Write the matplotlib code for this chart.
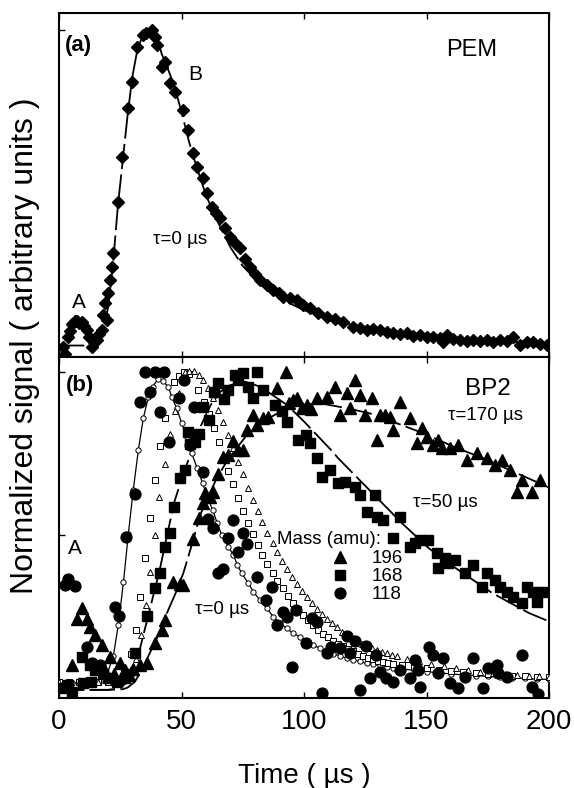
import matplotlib
matplotlib.use("Agg")
import matplotlib.pyplot as plt

plt.rcParams['font.family'] = ['Liberation Sans', 'DejaVu Sans']

# ---- panel (a): PEM ----
pem_t = [1.8, 2.4, 3.5, 4.5, 5.5, 6.5, 7.2, 8.3, 9.3, 10.3, 11.3, 12.3, 13.3, 14.4, 15.4,
         16.4, 17.4, 18.0, 18.8, 19.5, 20.0, 20.8, 21.5, 22.1, 24.2, 25.6, 28.3, 29.7, 32.0,
         34.1, 35.5, 37.8, 39.2, 39.9, 41.9, 43.3, 45.3, 47.3, 50.5, 52.8, 54.6, 56.2, 58.9,
         60.5, 62.3, 64.0, 65.7, 67.8, 69.8, 71.8, 73.9, 76.0, 78.0, 80.0, 82.0, 84.8, 87.5,
         89.6, 91.6, 94.3, 97.0, 99.7, 102.4, 105.9, 109.3, 112.7, 116.0, 120.0, 122.8, 125.6,
         128.3, 131.0, 133.8, 136.5, 139.2, 141.9, 144.6, 147.3, 150.0, 152.8, 155.5, 156.9,
         158.2, 161.0, 163.7, 166.4, 169.1, 171.8, 174.6, 177.3, 180.0, 182.7, 185.4, 188.2,
         191.0, 193.6, 196.3, 199.0]
pem_y = [0.03, 0.01, 0.06, 0.08, 0.10, 0.11, 0.11, 0.105, 0.108, 0.095, 0.083, 0.06, 0.03, 0.045,
         0.052, 0.07, 0.083, 0.128, 0.165, 0.113, 0.195, 0.235, 0.276, 0.318, 0.475, 0.613, 0.76,
         0.842, 0.949, 0.985, 0.99, 1.0, 0.98, 0.954, 0.888, 0.903, 0.837, 0.811, 0.755, 0.694,
         0.623, 0.582, 0.546, 0.50, 0.46, 0.44, 0.424, 0.395, 0.368, 0.35, 0.332, 0.30, 0.276,
         0.255, 0.235, 0.22, 0.205, 0.195, 0.184, 0.18, 0.174, 0.16, 0.149, 0.135, 0.123, 0.115,
         0.108, 0.093, 0.09, 0.083, 0.085, 0.083, 0.075, 0.072, 0.07, 0.072, 0.065, 0.067, 0.06,
         0.062, 0.058, 0.045, 0.067, 0.055, 0.052, 0.048, 0.052, 0.05, 0.052, 0.047, 0.052, 0.048,
         0.062, 0.037, 0.045, 0.047, 0.04, 0.037]

pem_fit_t = [0, 10, 15, 18, 20, 22, 24, 26, 28, 30, 32, 34, 36, 38, 40, 42, 44, 47, 50, 53, 56,
             60, 64, 70, 75, 83, 92, 100, 110, 120, 130, 140, 150, 160, 170, 180, 190, 200]
pem_fit_y = [0.035, 0.035, 0.04, 0.08, 0.15, 0.28, 0.46, 0.60, 0.74, 0.86, 0.94, 0.98, 1.0, 1.0,
             0.975, 0.925, 0.89, 0.83, 0.75, 0.66, 0.585, 0.495, 0.425, 0.335, 0.278, 0.217,
             0.172, 0.143, 0.117, 0.097, 0.082, 0.072, 0.064, 0.057, 0.052, 0.048, 0.045, 0.043]

# ---- panel (b): BP2, measured ----
m118_t = [2.4, 3.8, 6.5, 11.3, 13.3, 15.4, 16.7, 22.9, 24.6, 27.3, 31.0, 33.1, 35.1, 37.1, 39.2,
          41.2, 43.0, 45.0, 49.1, 51.1, 53.5, 55.1, 58.9, 60.9, 63.0, 65.0, 67.1, 69.1, 71.1,
          73.2, 75.0, 76.9, 80.7, 84.5, 86.8, 88.8, 91.3, 93.2, 95.0, 96.7, 100.8, 103.1, 105.2,
          107.2, 109.3, 110.9, 114.7, 117.5, 118.8, 121.0, 122.9, 125.1, 126.9, 129.3, 131.0,
          133.5, 136.5, 139.2, 143.3, 145.3, 146.7, 147.3, 151.1, 152.8, 154.8, 156.9, 159.6,
          163.0, 165.7, 169.1, 173.2, 175.2, 178.6, 179.3, 182.7, 188.8, 192.9, 195.6]
m118_y = [0.347, 0.364, 0.345, 0.157, 0.108, 0.096, 0.101, 0.28, 0.25, 0.495, 0.625, 0.907, 0.999,
          0.938, 0.999, 0.878, 0.999, 0.784, 0.919, 0.975, 0.776, 0.894, 0.692, 0.548, 0.52,
          0.382, 0.395, 0.49, 0.546, 0.449, 0.505, 0.472, 0.372, 0.30, 0.341, 0.224, 0.265, 0.248,
          0.096, 0.27, 0.168, 0.244, 0.234, 0.014, 0.137, 0.157, 0.152, 0.19, 0.137, 0.175, 0.025,
          0.16, 0.06, 0.132, 0.081, 0.06, 0.05, 0.086, 0.06, 0.117, 0.086, 0.035, 0.157, 0.132,
          0.076, 0.122, 0.045, 0.03, 0.065, 0.122, 0.03, 0.091, 0.101, 0.076, 0.065, 0.132, 0.035,
          0.012]

m168_t = [1.8, 3.5, 5.5, 9.3, 9.9, 12.7, 13.0, 14.7, 18.1, 20.1, 23.5, 26.9, 28.3, 31.0, 35.8,
          39.2, 41.2, 43.3, 45.3, 46.9, 49.4, 51.4, 52.8, 53.5, 55.5, 57.3, 58.6, 61.3, 63.3,
          65.0, 67.3, 69.1, 71.8, 73.2, 75.2, 77.3, 79.3, 80.7, 83.4, 88.0, 91.2, 92.9, 97.7,
          100.8, 102.4, 105.2, 107.2, 110.6, 114.0, 116.7, 120.8, 122.9, 125.6, 129.0, 129.7,
          132.4, 136.5, 139.2, 143.3, 145.3, 147.3, 150.7, 154.2, 154.8, 157.6, 158.9, 161.6,
          165.7, 169.1, 172.5, 174.6, 178.0, 180.0, 182.7, 185.4, 188.8, 190.9, 193.6, 195.0,
          197.0]
m168_y = [0.03, 0.04, 0.017, 0.127, 0.045, 0.101, 0.05, 0.086, 0.075, 0.06, 0.05, 0.06, 0.075,
          0.137, 0.252, 0.336, 0.382, 0.464, 0.507, 0.587, 0.674, 0.699, 0.815, 0.778, 0.784,
          0.809, 0.894, 0.853, 0.94, 0.965, 0.917, 0.945, 0.991, 0.975, 0.996, 0.955, 0.921,
          0.999, 0.945, 0.899, 0.88, 0.848, 0.791, 0.807, 0.781, 0.735, 0.679, 0.699, 0.658,
          0.663, 0.648, 0.623, 0.572, 0.623, 0.556, 0.546, 0.49, 0.556, 0.464, 0.475, 0.485,
          0.485, 0.444, 0.398, 0.429, 0.413, 0.423, 0.382, 0.408, 0.341, 0.382, 0.362, 0.341,
          0.326, 0.311, 0.29, 0.341, 0.326, 0.295, 0.326]

m196_t = [5.2, 7.2, 9.3, 11.3, 12.7, 14.7, 17.4, 18.5, 20.8, 22.5, 24.9, 26.9, 28.5, 30.3, 33.0,
          35.8, 39.2, 41.9, 43.3, 46.6, 49.4, 50.7, 54.8, 57.1, 58.9, 59.6, 61.6, 63.0, 65.0,
          67.1, 69.1, 71.1, 73.2, 75.2, 76.6, 79.0, 80.7, 83.4, 85.4, 88.8, 92.5, 94.0, 95.6,
          97.0, 99.0, 101.1, 102.8, 105.2, 109.3, 112.7, 114.7, 117.4, 118.8, 120.8, 122.9,
          124.9, 127.6, 129.7, 131.0, 133.0, 135.1, 136.5, 139.2, 143.3, 146.0, 148.0, 150.1,
          152.8, 154.8, 156.2, 159.6, 163.0, 166.4, 170.5, 174.6, 178.0, 180.7, 184.1, 186.8,
          188.8, 192.9, 196.3]
m196_y = [0.101, 0.241, 0.275, 0.241, 0.219, 0.193, 0.163, 0.09, 0.127, 0.075, 0.106, 0.086,
          0.07, 0.088, 0.101, 0.108, 0.168, 0.21, 0.239, 0.357, 0.35, 0.347, 0.487, 0.551,
          0.597, 0.628, 0.617, 0.633, 0.686, 0.74, 0.745, 0.788, 0.761, 0.761, 0.822, 0.868,
          0.837, 0.858, 0.863, 0.95, 1.0, 0.906, 0.914, 0.919, 0.889, 0.899, 0.886, 0.919, 0.924,
          0.955, 0.868, 0.934, 0.889, 0.975, 0.929, 0.868, 0.919, 0.791, 0.868, 0.868, 0.863,
          0.822, 0.909, 0.858, 0.781, 0.827, 0.801, 0.776, 0.791, 0.766, 0.766, 0.776, 0.73,
          0.75, 0.735, 0.715, 0.73, 0.699, 0.633, 0.669, 0.633, 0.669]

# ---- panel (b): calculated, tau = 0 (open symbols) ----
c118_t = [0, 2.7, 5.4, 8.1, 10.8, 13.5, 16.2, 19.5, 22.2, 24.2, 26.3, 28.3, 30.3, 32.4, 34.4,
          36.5, 38.2, 40.5, 42.3, 44.6, 46.0, 48.0, 50.1, 52.1, 54.2, 56.4, 58.6, 60.5, 62.7,
          64.6, 66.4, 69.1, 71.2, 72.8, 74.6, 77.3, 79.3, 82.0, 84.8, 87.5, 90.2, 92.9, 95.6,
          98.4, 101.1, 103.8, 106.5, 109.3, 112.0, 114.7, 117.4, 120.1, 122.8, 125.6, 128.3,
          131.0, 133.7, 136.5, 140, 145, 150, 155, 160, 165, 170, 175, 180, 185, 190, 195, 200]
c118_y = [0.047, 0.047, 0.047, 0.047, 0.047, 0.047, 0.048, 0.07, 0.13, 0.224, 0.355, 0.503, 0.638,
          0.761, 0.858, 0.924, 0.955, 0.979, 0.972, 0.955, 0.924, 0.889, 0.843, 0.80, 0.75,
          0.705, 0.659, 0.617, 0.577, 0.536, 0.50, 0.464, 0.439, 0.408, 0.382, 0.352, 0.326,
          0.30, 0.275, 0.249, 0.229, 0.214, 0.198, 0.188, 0.176, 0.163, 0.152, 0.142, 0.135,
          0.129, 0.122, 0.117, 0.112, 0.106, 0.103, 0.10, 0.096, 0.093, 0.089, 0.085, 0.081,
          0.077, 0.074, 0.071, 0.069, 0.066, 0.064, 0.062, 0.060, 0.058, 0.057]

c168_t = [0, 4, 8, 12, 16, 20, 24, 26.5, 29.2, 31.3, 33.0, 35.1, 37.1, 39.2, 41.2, 43.3, 46.9,
          49.1, 51.1, 53.2, 56.9, 59.2, 61.3, 63.3, 65.3, 69.1, 71.1, 73.2, 75.2, 77.3, 79.3,
          81.1, 82.7, 85.0, 87.2, 89.1, 91.3, 93.3, 95.4, 97.4, 99.4, 101.5, 103.5, 105.6, 107.6,
          109.7, 111.7, 113.7, 115.8, 117.8, 119.9, 121.9, 124.0, 126.0, 128.0, 130.1, 132.2,
          134.2, 136.2, 140, 145, 150, 155, 160, 165, 170, 175, 180, 185, 190, 195, 200]
c168_y = [0.05, 0.05, 0.05, 0.05, 0.05, 0.05, 0.052, 0.08, 0.135, 0.21, 0.31, 0.428, 0.551, 0.669,
          0.773, 0.858, 0.97, 0.989, 0.999, 0.993, 0.945, 0.909, 0.87, 0.829, 0.784, 0.696,
          0.655, 0.614, 0.575, 0.536, 0.503, 0.469, 0.439, 0.411, 0.384, 0.36, 0.336, 0.313,
          0.292, 0.272, 0.255, 0.239, 0.224, 0.209, 0.196, 0.186, 0.176, 0.166, 0.158, 0.149,
          0.143, 0.136, 0.13, 0.124, 0.119, 0.114, 0.11, 0.106, 0.103, 0.10, 0.095, 0.091,
          0.087, 0.083, 0.08, 0.077, 0.074, 0.072, 0.069, 0.067, 0.065, 0.063]

c196_t = [0, 4, 8, 12, 16, 20, 24, 27, 29.5, 31.5, 33.5, 35.5, 37.1, 39.2, 40.9, 43.3, 45.3,
          47.3, 49.1, 51.4, 53.2, 55.1, 57.1, 58.9, 60.9, 63.0, 65.0, 67.1, 69.1, 71.1, 73.2,
          75.2, 77.3, 79.3, 81.1, 83.0, 84.8, 87.2, 88.8, 90.9, 92.9, 95.0, 97.0, 99.0, 101.1,
          103.1, 105.2, 107.2, 109.3, 111.3, 113.3, 115.4, 117.4, 119.5, 121.5, 123.5, 125.6,
          127.6, 129.7, 131.7, 133.8, 135.8, 137.9, 142, 147, 152, 157, 162, 167, 172, 177,
          182, 187, 192, 196, 200]
c196_y = [0.05, 0.05, 0.05, 0.05, 0.05, 0.05, 0.05, 0.055, 0.09, 0.12, 0.193, 0.284, 0.388, 0.5,
          0.616, 0.717, 0.809, 0.881, 0.934, 1.0, 1.003, 1.003, 0.99, 0.975, 0.95, 0.92, 0.883,
          0.845, 0.807, 0.768, 0.725, 0.686, 0.645, 0.607, 0.574, 0.54, 0.505, 0.474, 0.447,
          0.421, 0.395, 0.372, 0.35, 0.328, 0.309, 0.29, 0.273, 0.257, 0.242, 0.229, 0.217,
          0.203, 0.193, 0.183, 0.175, 0.166, 0.16, 0.153, 0.148, 0.142, 0.138, 0.133, 0.128,
          0.12, 0.112, 0.104, 0.097, 0.091, 0.086, 0.081, 0.077, 0.074, 0.071, 0.068, 0.066,
          0.065]

# ---- panel (b): fits with residence times ----
fit168_t = [0, 10, 20, 25, 28, 30, 33, 37, 41, 45, 47, 50, 53.5, 57.6, 62, 66, 70, 76, 82, 87,
            93, 100, 111, 114, 126, 140, 151, 161, 177, 192, 200]
fit168_y = [0.025, 0.025, 0.025, 0.03, 0.05, 0.08, 0.15, 0.27, 0.39, 0.53, 0.6, 0.67, 0.745,
            0.83, 0.9, 0.94, 0.96, 0.97, 0.955, 0.93, 0.899, 0.848, 0.761, 0.735, 0.643, 0.536,
            0.459, 0.403, 0.321, 0.26, 0.235]

fit196_t = [0, 10, 20, 26, 28, 31, 34, 37, 41, 44, 47.5, 50.7, 54.8, 57.6, 61, 64.4, 68, 72.5,
            77, 82, 86, 90, 94.3, 100, 106.5, 117.4, 126.9, 137.8, 148.7, 161, 173.2, 185.5,
            196.3, 200]
fit196_y = [0.025, 0.025, 0.025, 0.027, 0.032, 0.05, 0.09, 0.137, 0.2, 0.26, 0.32, 0.382, 0.485,
            0.561, 0.62, 0.674, 0.72, 0.766, 0.81, 0.837, 0.86, 0.876, 0.892, 0.9, 0.904, 0.889,
            0.873, 0.843, 0.812, 0.771, 0.735, 0.694, 0.658, 0.645]

dash = (0, (14, 3))

fig = plt.figure(figsize=(5.74, 7.88), dpi=100)
ax1 = fig.add_axes([0.1028, 0.547, 0.8537, 0.4365])
ax2 = fig.add_axes([0.1028, 0.1142, 0.8537, 0.4328])

# (a)
ax1.plot(pem_fit_t, pem_fit_y, color='black', lw=1.3, ls=dash, zorder=2)
ax1.plot(pem_t, pem_y, ls='none', marker='D', ms=6.3, color='black', zorder=3)
ax1.set_xlim(0, 200)
ax1.set_ylim(0, 1.052)
ax1.set_xticks([0, 50, 100, 150, 200])
ax1.set_yticks([1.0])
ax1.tick_params(direction='in', length=4, width=1, top=True, bottom=True,
                labelbottom=False, labelleft=False)
ax1.text(2.4, 0.954, '(a)', fontsize=16, fontweight='bold', va='center')
ax1.text(158, 0.939, 'PEM', fontsize=17, va='center')
ax1.text(52.7, 0.865, 'B', fontsize=15, va='center')
ax1.text(5.3, 0.168, 'A', fontsize=15, va='center')
ax1.text(38.4, 0.358, 'τ=0 µs', fontsize=13.5, va='center')

# (b)
ax2.plot(fit168_t, fit168_y, color='black', lw=1.3, ls=dash, zorder=2)
ax2.plot(fit196_t, fit196_y, color='black', lw=1.3, ls=dash, zorder=2)
ax2.plot(c118_t, c118_y, color='black', lw=0.9, marker='o', ms=3.8, mfc='white',
         mec='black', mew=0.7, zorder=3)
ax2.plot(c168_t, c168_y, ls='none', marker='s', ms=3.8, mfc='white', mec='black',
         mew=0.7, zorder=3)
ax2.plot(c196_t, c196_y, ls='none', marker='^', ms=4.4, mfc='white', mec='black',
         mew=0.7, zorder=3)
h196, = ax2.plot(m196_t, m196_y, ls='none', marker='^', ms=8.3, color='black', zorder=4)
h168, = ax2.plot(m168_t, m168_y, ls='none', marker='s', ms=7.2, color='black', zorder=4)
h118, = ax2.plot(m118_t, m118_y, ls='none', marker='o', ms=7.8, color='black', zorder=4)
ax2.set_xlim(0, 200)
ax2.set_ylim(0, 1.046)
ax2.set_xticks([0, 50, 100, 150, 200])
ax2.set_yticks([0.5, 1.0])
ax2.tick_params(direction='in', length=4, width=1, top=True, labelleft=False,
                labelsize=20, pad=8)
ax2.text(2.9, 0.957, '(b)', fontsize=16, fontweight='bold', va='center')
ax2.text(165.7, 0.948, 'BP2', fontsize=17.5, va='center')
ax2.text(158.8, 0.865, 'τ=170 µs', fontsize=13.5, va='center')
ax2.text(144.5, 0.601, 'τ=50 µs', fontsize=13.5, va='center')
ax2.text(55.5, 0.27, 'τ=0 µs', fontsize=13.5, va='center')
ax2.text(3.7, 0.46, 'A', fontsize=15, va='center')
ax2.text(89, 0.485, 'Mass (amu):', fontsize=13.5, va='center')
ax2.legend([h196, h168, h118], ['196', '168', '118'], loc='upper left',
           bbox_to_anchor=(0.554, 0.434), frameon=False, fontsize=13.5,
           handlelength=1.0, handletextpad=1.2, labelspacing=0.05,
           borderpad=0, borderaxespad=0)

for ax in (ax1, ax2):
    for s in ax.spines.values():
        s.set_linewidth(1.5)

ax2.set_xlabel('Time ( µs )', fontsize=20, labelpad=20)
fig.text(25 / 574, 1 - 346 / 788, 'Normalized signal ( arbitrary units )', fontsize=23,
         rotation=90, ha='center', va='center')

fig.savefig('out.png', dpi=100)
